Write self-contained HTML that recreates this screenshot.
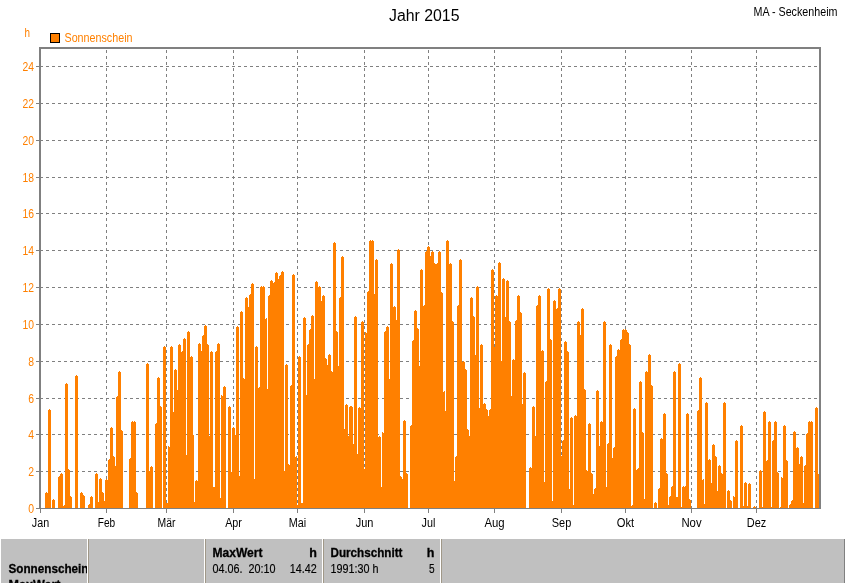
<!DOCTYPE html><html lang="de"><head><meta charset="utf-8"><title>Jahr 2015 - Sonnenschein</title><style>html,body{margin:0;padding:0;background:#fff;overflow:hidden}svg{display:block}</style></head><body><svg width="845" height="583" viewBox="0 0 845 583" shape-rendering="crispEdges" font-family="'Liberation Sans', Arial, sans-serif">
<rect width="845" height="583" fill="#fff"/>
<g stroke="#808080" stroke-width="1" stroke-dasharray="3 3" fill="none"><path d="M40 471.5H819" /><path d="M40 434.5H819" /><path d="M40 398.5H819" /><path d="M40 361.5H819" /><path d="M40 324.5H819" /><path d="M40 287.5H819" /><path d="M40 250.5H819" /><path d="M40 213.5H819" /><path d="M40 177.5H819" /><path d="M40 140.5H819" /><path d="M40 103.5H819" /><path d="M40 66.5H819" /></g>
<g stroke="#808080" stroke-width="1" stroke-dasharray="3 3" fill="none"><path d="M106.5 50V508" /><path d="M166.5 50V508" /><path d="M233.5 50V508" /><path d="M297.5 50V508" /><path d="M364.5 50V508" /><path d="M428.5 50V508" /><path d="M494.5 50V508" /><path d="M561.5 50V508" /><path d="M625.5 50V508" /><path d="M691.5 50V508" /><path d="M756.5 50V508" /></g>
<path d="M45 493H48V509H45ZM48 410H51V509H48ZM52 500H55V509H52ZM58 477H60V509H58ZM60 474H63V509H60ZM63 506H65V509H63ZM65 384H68V509H65ZM68 470H70V509H68ZM70 497H72V509H70ZM75 376H78V509H75ZM80 493H83V509H80ZM83 496H85V509H83ZM88 505H90V509H88ZM90 497H93V509H90ZM95 474H98V509H95ZM98 503H99V509H98ZM99 479H102V509H99ZM102 493H104V509H102ZM104 502H105V509H104ZM105 480H108V509H105ZM108 460H110V509H108ZM110 428H113V509H110ZM113 457H115V509H113ZM115 467H116V509H115ZM116 397H118V509H116ZM118 372H121V509H118ZM121 431H123V509H121ZM129 459H131V509H129ZM131 422H136V509H131ZM136 493H138V509H136ZM146 364H149V509H146ZM149 472H150V509H149ZM150 467H153V509H150ZM155 424H157V509H155ZM157 378H160V509H157ZM160 407H162V509H160ZM163 347H166V509H163ZM166 503H168V509H166ZM168 447H170V509H168ZM170 347H173V509H170ZM173 413H174V509H173ZM174 370H177V509H174ZM177 391H178V509H177ZM178 345H181V509H178ZM181 352H183V509H181ZM183 339H186V509H183ZM186 455H187V509H186ZM187 332H190V509H187ZM190 357H193V509H190ZM193 435H194V509H193ZM194 502H195V509H194ZM195 481H198V509H195ZM198 344H201V509H198ZM201 352H202V509H201ZM202 336H204V509H202ZM204 326H207V509H204ZM207 345H209V509H207ZM209 436H210V509H209ZM210 352H213V509H210ZM213 487H215V509H213ZM215 352H217V509H215ZM217 344H220V509H217ZM220 498H221V509H220ZM221 396H223V509H221ZM223 387H226V509H223ZM228 407H231V509H228ZM231 472H232V509H231ZM232 428H235V509H232ZM235 436H236V509H235ZM236 327H239V509H236ZM239 476H240V509H239ZM240 312H243V509H240ZM243 379H245V509H243ZM245 298H248V509H245ZM248 308H249V509H248ZM249 295H251V509H249ZM251 284H254V509H251ZM254 479H255V509H254ZM255 347H258V509H255ZM258 388H260V509H258ZM260 287H265V509H260ZM265 319H267V509H265ZM267 389H268V509H267ZM268 296H270V509H268ZM270 281H273V509H270ZM273 283H275V509H273ZM275 273H278V509H275ZM278 280H279V509H278ZM279 276H281V509H279ZM281 272H284V509H281ZM284 471H285V509H284ZM285 365H288V509H285ZM288 465H290V509H288ZM290 386H292V509H290ZM292 275H295V509H292ZM295 457H297V509H295ZM297 505H298V509H297ZM298 357H301V509H298ZM301 503H303V509H301ZM303 318H306V509H303ZM306 395H307V509H306ZM307 345H309V509H307ZM309 330H311V509H309ZM311 316H314V509H311ZM314 379H315V509H314ZM315 282H318V509H315ZM318 287H321V509H318ZM321 302H322V509H321ZM322 296H325V509H322ZM325 359H327V509H325ZM327 366H328V509H327ZM328 355H331V509H328ZM331 372H333V509H331ZM333 243H336V509H333ZM336 332H338V509H336ZM338 366H339V509H338ZM339 298H341V509H339ZM341 257H344V509H341ZM344 430H345V509H344ZM345 405H348V509H345ZM348 436H349V509H348ZM349 407H353V509H349ZM353 444H354V509H353ZM354 317H357V509H354ZM357 454H358V509H357ZM358 408H361V509H358ZM361 322H364V509H361ZM364 469H365V509H364ZM365 333H367V509H365ZM367 292H369V509H367ZM369 241H374V509H369ZM374 295H375V509H374ZM375 260H378V509H375ZM378 437H381V509H378ZM381 487H382V509H381ZM382 433H384V509H382ZM384 332H386V509H384ZM386 327H389V509H386ZM389 379H390V509H389ZM390 264H393V509H390ZM393 307H396V509H393ZM396 321H397V509H396ZM397 250H400V509H397ZM400 477H402V509H400ZM402 480H403V509H402ZM403 421H406V509H403ZM406 474H408V509H406ZM409 508H410V509H409ZM410 426H412V509H410ZM412 341H414V509H412ZM414 311H417V509H414ZM417 329H419V509H417ZM419 366H420V509H419ZM420 270H423V509H420ZM423 306H425V509H423ZM425 252H427V509H425ZM427 247H430V509H427ZM430 257H431V509H430ZM431 252H434V509H431ZM434 264H438V509H434ZM438 252H441V509H438ZM441 293H443V509H441ZM443 392H445V509H443ZM445 411H446V509H445ZM446 241H449V509H446ZM449 264H452V509H449ZM452 322H454V509H452ZM454 482H455V509H454ZM455 457H457V509H455ZM457 306H459V509H457ZM459 260H462V509H459ZM462 362H465V509H462ZM465 370H467V509H465ZM467 430H469V509H467ZM469 436H470V509H469ZM470 298H473V509H470ZM473 317H475V509H473ZM475 355H476V509H475ZM476 287H479V509H476ZM479 408H480V509H479ZM480 345H483V509H480ZM483 404H486V509H483ZM486 410H488V509H486ZM488 417H489V509H488ZM489 410H491V509H489ZM491 270H494V509H491ZM494 347H495V509H494ZM495 296H498V509H495ZM498 263H501V509H498ZM501 361H502V509H501ZM502 279H505V509H502ZM505 317H506V509H505ZM506 281H509V509H506ZM509 322H511V509H509ZM511 397H512V509H511ZM512 360H515V509H512ZM515 321H517V509H515ZM517 296H520V509H517ZM520 313H522V509H520ZM522 404H523V509H522ZM523 373H526V509H523ZM529 468H532V509H529ZM532 407H535V509H532ZM535 436H536V509H535ZM536 306H538V509H536ZM538 296H541V509H538ZM541 351H544V509H541ZM544 482H545V509H544ZM545 382H547V509H545ZM547 289H550V509H547ZM550 340H552V509H550ZM552 501H553V509H552ZM553 301H556V509H553ZM556 309H558V509H556ZM558 289H561V509H558ZM561 456H562V509H561ZM562 441H564V509H562ZM564 342H567V509H564ZM567 352H569V509H567ZM569 489H570V509H569ZM570 418H573V509H570ZM573 506H574V509H573ZM574 416H577V509H574ZM577 322H580V509H577ZM580 336H581V509H580ZM581 309H584V509H581ZM584 390H586V509H584ZM586 471H588V509H586ZM588 424H591V509H588ZM591 474H593V509H591ZM593 495H594V509H593ZM594 489H596V509H594ZM596 391H599V509H596ZM599 447H600V509H599ZM600 422H603V509H600ZM603 322H606V509H603ZM606 487H607V509H606ZM607 444H609V509H607ZM609 345H612V509H609ZM612 459H613V509H612ZM613 448H615V509H613ZM615 357H617V509H615ZM617 350H620V509H617ZM620 340H622V509H620ZM622 330H627V509H622ZM627 333H629V509H627ZM629 345H631V509H629ZM631 506H633V509H631ZM633 409H636V509H633ZM636 471H637V509H636ZM637 469H639V509H637ZM639 382H642V509H639ZM642 433H644V509H642ZM644 499H645V509H644ZM645 372H648V509H645ZM648 355H651V509H648ZM651 386H653V509H651ZM654 503H657V509H654ZM658 489H660V509H658ZM660 439H663V509H660ZM663 414H666V509H663ZM666 474H668V509H666ZM668 505H669V509H668ZM669 497H671V509H669ZM671 487H673V509H671ZM673 372H676V509H673ZM676 497H678V509H676ZM678 364H681V509H678ZM681 507H682V509H681ZM682 487H686V509H682ZM686 414H689V509H686ZM689 500H691V509H689ZM697 411H699V509H697ZM699 378H702V509H699ZM702 480H704V509H702ZM704 504H705V509H704ZM705 403H708V509H705ZM708 460H711V509H708ZM711 484H712V509H711ZM712 445H715V509H712ZM715 457H717V509H715ZM717 491H718V509H717ZM718 466H721V509H718ZM721 474H723V509H721ZM723 403H726V509H723ZM727 491H730V509H727ZM730 501H732V509H730ZM733 497H735V509H733ZM735 441H738V509H735ZM740 426H743V509H740ZM743 506H744V509H743ZM744 483H747V509H744ZM747 506H748V509H747ZM748 484H751V509H748ZM753 507H756V509H753ZM759 471H762V509H759ZM762 507H763V509H762ZM763 412H766V509H763ZM766 461H768V509H766ZM768 422H771V509H768ZM771 507H772V509H771ZM772 441H774V509H772ZM774 422H777V509H774ZM777 473H779V509H777ZM780 507H781V509H780ZM781 478H783V509H781ZM783 426H786V509H783ZM786 461H788V509H786ZM789 505H791V509H789ZM791 501H793V509H791ZM793 432H796V509H793ZM796 448H799V509H796ZM799 465H800V509H799ZM800 457H803V509H800ZM803 503H804V509H803ZM804 466H806V509H804ZM806 434H808V509H806ZM808 422H813V509H808ZM815 408H818V509H815ZM818 474H820V509H818ZM46 492h1v1h-1ZM49 409h1v1h-1ZM53 499h1v1h-1ZM59 476h1v1h-1ZM61 473h1v1h-1ZM64 505h1v1h-1ZM66 383h1v1h-1ZM68 469h1v1h-1ZM70 496h1v1h-1ZM76 375h1v1h-1ZM81 492h1v1h-1ZM83 495h1v1h-1ZM89 504h1v1h-1ZM91 496h1v1h-1ZM96 473h1v1h-1ZM98 502h1v1h-1ZM100 478h1v1h-1ZM102 492h1v1h-1ZM104 501h1v1h-1ZM106 479h1v1h-1ZM109 459h1v1h-1ZM111 427h1v1h-1ZM113 456h1v1h-1ZM115 466h1v1h-1ZM117 396h1v1h-1ZM119 371h1v1h-1ZM121 430h1v1h-1ZM130 458h1v1h-1ZM132 421h1v1h-1ZM134 421h1v1h-1ZM136 492h1v1h-1ZM147 363h1v1h-1ZM149 471h1v1h-1ZM151 466h1v1h-1ZM156 423h1v1h-1ZM158 377h1v1h-1ZM160 406h1v1h-1ZM164 346h1v1h-1ZM168 446h1v1h-1ZM171 346h1v1h-1ZM173 412h1v1h-1ZM175 369h1v1h-1ZM177 390h1v1h-1ZM179 344h1v1h-1ZM182 351h1v1h-1ZM184 338h1v1h-1ZM188 331h1v1h-1ZM191 356h1v1h-1ZM196 480h1v1h-1ZM199 343h1v1h-1ZM201 351h1v1h-1ZM203 335h1v1h-1ZM205 325h1v1h-1ZM207 344h1v1h-1ZM211 351h1v1h-1ZM216 351h1v1h-1ZM218 343h1v1h-1ZM221 395h1v1h-1ZM224 386h1v1h-1ZM229 406h1v1h-1ZM233 427h1v1h-1ZM235 435h1v1h-1ZM237 326h1v1h-1ZM241 311h1v1h-1ZM243 378h1v1h-1ZM246 297h1v1h-1ZM248 307h1v1h-1ZM250 294h1v1h-1ZM252 283h1v1h-1ZM256 346h1v1h-1ZM259 387h1v1h-1ZM261 286h1v1h-1ZM263 286h1v1h-1ZM266 318h1v1h-1ZM269 295h1v1h-1ZM271 280h1v1h-1ZM274 282h1v1h-1ZM276 272h1v1h-1ZM278 279h1v1h-1ZM280 275h1v1h-1ZM282 271h1v1h-1ZM286 364h1v1h-1ZM288 464h1v1h-1ZM291 385h1v1h-1ZM293 274h1v1h-1ZM296 456h1v1h-1ZM299 356h1v1h-1ZM304 317h1v1h-1ZM308 344h1v1h-1ZM310 329h1v1h-1ZM312 315h1v1h-1ZM316 281h1v1h-1ZM319 286h1v1h-1ZM321 301h1v1h-1ZM323 295h1v1h-1ZM325 358h1v1h-1ZM327 365h1v1h-1ZM329 354h1v1h-1ZM331 371h1v1h-1ZM334 242h1v1h-1ZM336 331h1v1h-1ZM340 297h1v1h-1ZM342 256h1v1h-1ZM344 429h1v1h-1ZM346 404h1v1h-1ZM350 406h1v1h-1ZM351 406h1v1h-1ZM355 316h1v1h-1ZM359 407h1v1h-1ZM362 321h1v1h-1ZM365 332h1v1h-1ZM368 291h1v1h-1ZM370 240h1v1h-1ZM372 240h1v1h-1ZM374 294h1v1h-1ZM376 259h1v1h-1ZM379 436h1v1h-1ZM382 432h1v1h-1ZM385 331h1v1h-1ZM387 326h1v1h-1ZM391 263h1v1h-1ZM394 306h1v1h-1ZM396 320h1v1h-1ZM398 249h1v1h-1ZM400 476h1v1h-1ZM402 479h1v1h-1ZM404 420h1v1h-1ZM406 473h1v1h-1ZM411 425h1v1h-1ZM413 340h1v1h-1ZM415 310h1v1h-1ZM417 328h1v1h-1ZM421 269h1v1h-1ZM424 305h1v1h-1ZM426 251h1v1h-1ZM428 246h1v1h-1ZM430 256h1v1h-1ZM432 251h1v1h-1ZM434 263h1v1h-1ZM437 263h1v1h-1ZM439 251h1v1h-1ZM441 292h1v1h-1ZM444 391h1v1h-1ZM447 240h1v1h-1ZM450 263h1v1h-1ZM452 321h1v1h-1ZM454 481h1v1h-1ZM456 456h1v1h-1ZM458 305h1v1h-1ZM460 259h1v1h-1ZM463 361h1v1h-1ZM465 369h1v1h-1ZM467 429h1v1h-1ZM471 297h1v1h-1ZM473 316h1v1h-1ZM477 286h1v1h-1ZM481 344h1v1h-1ZM484 403h1v1h-1ZM486 409h1v1h-1ZM488 416h1v1h-1ZM490 409h1v1h-1ZM492 269h1v1h-1ZM496 295h1v1h-1ZM499 262h1v1h-1ZM503 278h1v1h-1ZM507 280h1v1h-1ZM509 321h1v1h-1ZM511 396h1v1h-1ZM513 359h1v1h-1ZM516 320h1v1h-1ZM518 295h1v1h-1ZM520 312h1v1h-1ZM524 372h1v1h-1ZM530 467h1v1h-1ZM533 406h1v1h-1ZM537 305h1v1h-1ZM539 295h1v1h-1ZM542 350h1v1h-1ZM546 381h1v1h-1ZM548 288h1v1h-1ZM550 339h1v1h-1ZM554 300h1v1h-1ZM557 308h1v1h-1ZM559 288h1v1h-1ZM563 440h1v1h-1ZM565 341h1v1h-1ZM567 351h1v1h-1ZM571 417h1v1h-1ZM573 505h1v1h-1ZM575 415h1v1h-1ZM578 321h1v1h-1ZM580 335h1v1h-1ZM582 308h1v1h-1ZM584 389h1v1h-1ZM586 470h1v1h-1ZM589 423h1v1h-1ZM591 473h1v1h-1ZM593 494h1v1h-1ZM595 488h1v1h-1ZM597 390h1v1h-1ZM599 446h1v1h-1ZM601 421h1v1h-1ZM604 321h1v1h-1ZM608 443h1v1h-1ZM610 344h1v1h-1ZM612 458h1v1h-1ZM614 447h1v1h-1ZM616 356h1v1h-1ZM618 349h1v1h-1ZM621 339h1v1h-1ZM623 329h1v1h-1ZM625 329h1v1h-1ZM627 332h1v1h-1ZM629 344h1v1h-1ZM632 505h1v1h-1ZM634 408h1v1h-1ZM636 470h1v1h-1ZM638 468h1v1h-1ZM640 381h1v1h-1ZM642 432h1v1h-1ZM646 371h1v1h-1ZM649 354h1v1h-1ZM651 385h1v1h-1ZM655 502h1v1h-1ZM659 488h1v1h-1ZM661 438h1v1h-1ZM664 413h1v1h-1ZM666 473h1v1h-1ZM670 496h1v1h-1ZM672 486h1v1h-1ZM674 371h1v1h-1ZM679 363h1v1h-1ZM683 486h1v1h-1ZM685 486h1v1h-1ZM687 413h1v1h-1ZM689 499h1v1h-1ZM698 410h1v1h-1ZM700 377h1v1h-1ZM703 479h1v1h-1ZM706 402h1v1h-1ZM709 459h1v1h-1ZM711 483h1v1h-1ZM713 444h1v1h-1ZM715 456h1v1h-1ZM719 465h1v1h-1ZM721 473h1v1h-1ZM724 402h1v1h-1ZM728 490h1v1h-1ZM730 500h1v1h-1ZM733 496h1v1h-1ZM736 440h1v1h-1ZM741 425h1v1h-1ZM745 482h1v1h-1ZM749 483h1v1h-1ZM754 506h1v1h-1ZM760 470h1v1h-1ZM764 411h1v1h-1ZM767 460h1v1h-1ZM769 421h1v1h-1ZM773 440h1v1h-1ZM775 421h1v1h-1ZM777 472h1v1h-1ZM781 477h1v1h-1ZM784 425h1v1h-1ZM786 460h1v1h-1ZM790 504h1v1h-1ZM792 500h1v1h-1ZM794 431h1v1h-1ZM797 447h1v1h-1ZM799 464h1v1h-1ZM801 456h1v1h-1ZM805 465h1v1h-1ZM807 433h1v1h-1ZM809 421h1v1h-1ZM811 421h1v1h-1ZM816 407h1v1h-1ZM819 473h1v1h-1Z" fill="#ff8000"/>
<path d="M40 509V48H820V509" fill="none" stroke="#808080" stroke-width="2"/>
<path d="M36 508.5H821" fill="none" stroke="#808080" stroke-width="1"/>
<path d="M36 471.5H40M36 434.5H40M36 398.5H40M36 361.5H40M36 324.5H40M36 287.5H40M36 250.5H40M36 213.5H40M36 177.5H40M36 140.5H40M36 103.5H40M36 66.5H40M40.5 508V513M106.5 508V513M166.5 508V513M233.5 508V513M297.5 508V513M364.5 508V513M428.5 508V513M494.5 508V513M561.5 508V513M625.5 508V513M691.5 508V513M756.5 508V513" stroke="#808080" stroke-width="1" fill="none"/>
<text x="34" y="513" font-size="12.5" fill="#ff8000" text-anchor="end" textLength="5.8" lengthAdjust="spacingAndGlyphs">0</text>
<text x="34" y="476" font-size="12.5" fill="#ff8000" text-anchor="end" textLength="5.8" lengthAdjust="spacingAndGlyphs">2</text>
<text x="34" y="439" font-size="12.5" fill="#ff8000" text-anchor="end" textLength="5.8" lengthAdjust="spacingAndGlyphs">4</text>
<text x="34" y="403" font-size="12.5" fill="#ff8000" text-anchor="end" textLength="5.8" lengthAdjust="spacingAndGlyphs">6</text>
<text x="34" y="366" font-size="12.5" fill="#ff8000" text-anchor="end" textLength="5.8" lengthAdjust="spacingAndGlyphs">8</text>
<text x="34" y="329" font-size="12.5" fill="#ff8000" text-anchor="end" textLength="11.5" lengthAdjust="spacingAndGlyphs">10</text>
<text x="34" y="292" font-size="12.5" fill="#ff8000" text-anchor="end" textLength="11.5" lengthAdjust="spacingAndGlyphs">12</text>
<text x="34" y="255" font-size="12.5" fill="#ff8000" text-anchor="end" textLength="11.5" lengthAdjust="spacingAndGlyphs">14</text>
<text x="34" y="218" font-size="12.5" fill="#ff8000" text-anchor="end" textLength="11.5" lengthAdjust="spacingAndGlyphs">16</text>
<text x="34" y="182" font-size="12.5" fill="#ff8000" text-anchor="end" textLength="11.5" lengthAdjust="spacingAndGlyphs">18</text>
<text x="34" y="145" font-size="12.5" fill="#ff8000" text-anchor="end" textLength="11.5" lengthAdjust="spacingAndGlyphs">20</text>
<text x="34" y="108" font-size="12.5" fill="#ff8000" text-anchor="end" textLength="11.5" lengthAdjust="spacingAndGlyphs">22</text>
<text x="34" y="71" font-size="12.5" fill="#ff8000" text-anchor="end" textLength="11.5" lengthAdjust="spacingAndGlyphs">24</text>
<text x="24.5" y="37" font-size="12.5" fill="#ff8000" textLength="5.5" lengthAdjust="spacingAndGlyphs">h</text>
<rect x="50.5" y="33.5" width="9" height="9" fill="#ff8000" stroke="#000" stroke-width="1"/>
<text x="64.5" y="42" font-size="12.5" fill="#ff8000" textLength="68" lengthAdjust="spacingAndGlyphs">Sonnenschein</text>
<text x="40.5" y="527" font-size="12.5" fill="#000" text-anchor="middle" textLength="17.3" lengthAdjust="spacingAndGlyphs">Jan</text>
<text x="106.5" y="527" font-size="12.5" fill="#000" text-anchor="middle" textLength="17.4" lengthAdjust="spacingAndGlyphs">Feb</text>
<text x="166.5" y="527" font-size="12.5" fill="#000" text-anchor="middle" textLength="17.9" lengthAdjust="spacingAndGlyphs">Mär</text>
<text x="233.5" y="527" font-size="12.5" fill="#000" text-anchor="middle" textLength="16.7" lengthAdjust="spacingAndGlyphs">Apr</text>
<text x="297.5" y="527" font-size="12.5" fill="#000" text-anchor="middle" textLength="17.4" lengthAdjust="spacingAndGlyphs">Mai</text>
<text x="364.5" y="527" font-size="12.5" fill="#000" text-anchor="middle" textLength="17.7" lengthAdjust="spacingAndGlyphs">Jun</text>
<text x="428.5" y="527" font-size="12.5" fill="#000" text-anchor="middle" textLength="13.8" lengthAdjust="spacingAndGlyphs">Jul</text>
<text x="494.5" y="527" font-size="12.5" fill="#000" text-anchor="middle" textLength="20.2" lengthAdjust="spacingAndGlyphs">Aug</text>
<text x="561.5" y="527" font-size="12.5" fill="#000" text-anchor="middle" textLength="19.5" lengthAdjust="spacingAndGlyphs">Sep</text>
<text x="625.5" y="527" font-size="12.5" fill="#000" text-anchor="middle" textLength="17.4" lengthAdjust="spacingAndGlyphs">Okt</text>
<text x="691.5" y="527" font-size="12.5" fill="#000" text-anchor="middle" textLength="20.2" lengthAdjust="spacingAndGlyphs">Nov</text>
<text x="756.5" y="527" font-size="12.5" fill="#000" text-anchor="middle" textLength="19.5" lengthAdjust="spacingAndGlyphs">Dez</text>
<text x="389" y="20.7" font-size="16" fill="#000" textLength="70.5" lengthAdjust="spacingAndGlyphs">Jahr 2015</text>
<text x="753.5" y="16" font-size="12.5" fill="#000" textLength="84" lengthAdjust="spacingAndGlyphs">MA - Seckenheim</text>
<rect x="1" y="539" width="843" height="44" fill="#c0c0c0"/>
<rect x="844" y="539" width="1" height="44" fill="#808080"/>
<rect x="87" y="539" width="1" height="44" fill="#fff"/><rect x="88" y="539" width="1" height="44" fill="#a09888"/>
<rect x="204" y="539" width="1" height="44" fill="#fff"/><rect x="205" y="539" width="1" height="44" fill="#a09888"/>
<rect x="322" y="539" width="1" height="44" fill="#fff"/><rect x="323" y="539" width="1" height="44" fill="#a09888"/>
<rect x="440" y="539" width="1" height="44" fill="#fff"/><rect x="441" y="539" width="1" height="44" fill="#a09888"/>
<clipPath id="c1"><rect x="0" y="539" width="87" height="44"/></clipPath>
<g font-weight="bold" font-size="12.5" fill="#000" stroke="#000" stroke-width="0.3">
<g clip-path="url(#c1)"><text x="8.5" y="573" textLength="80" lengthAdjust="spacingAndGlyphs">Sonnenschein</text><text x="8.5" y="589" textLength="52" lengthAdjust="spacingAndGlyphs">MaxWert</text></g>
<text x="212.5" y="557" textLength="50" lengthAdjust="spacingAndGlyphs">MaxWert</text>
<text x="316.8" y="557" text-anchor="end">h</text>
<text x="330.5" y="557" textLength="72" lengthAdjust="spacingAndGlyphs">Durchschnitt</text>
<text x="434.5" y="557" text-anchor="end">h</text>
</g>
<g font-size="12.5" fill="#000" stroke="#000" stroke-width="0.15">
<text x="212.5" y="573" textLength="63" lengthAdjust="spacingAndGlyphs" xml:space="preserve">04.06.  20:10</text>
<text x="316.7" y="573" text-anchor="end" textLength="27" lengthAdjust="spacingAndGlyphs">14.42</text>
<text x="330.5" y="573" textLength="48" lengthAdjust="spacingAndGlyphs">1991:30 h</text>
<text x="434.6" y="573" text-anchor="end" textLength="5.6" lengthAdjust="spacingAndGlyphs">5</text>
</g>
</svg></body></html>
